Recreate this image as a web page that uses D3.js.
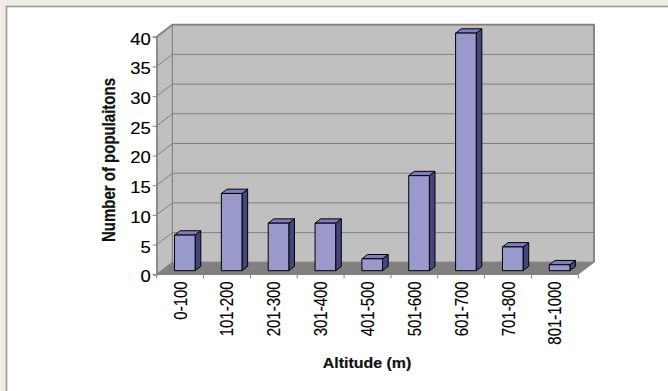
<!DOCTYPE html>
<html>
<head>
<meta charset="utf-8">
<script src="https://cdnjs.cloudflare.com/ajax/libs/d3/7.8.5/d3.min.js"></script>
<style>
  html, body { margin: 0; padding: 0; background: #f1ece5; }
  svg { display: block; }
</style>
</head>
<body>
<svg id="chart" width="668" height="391"></svg>
<script>
// Populations per altitude band
const categories = ["0-100", "101-200", "201-300", "301-400", "401-500", "501-600", "601-700", "701-800", "801-1000"];
const populations = [6, 13, 8, 8, 2, 16, 40, 4, 1];
const yTickValues = [0, 5, 10, 15, 20, 25, 30, 35, 40];
const xTitle = "Altitude (m)";
const yTitle = "Number of populaitons";

const FONT = "Liberation Sans, Arial, sans-serif";
const svg = d3.select("#chart");
const W = 668, H = 391;

// front plane of the 3-D plot box
const x = d3.scaleBand().domain(categories).range([156.7, 578.3]);
const y = d3.scaleLinear().domain([0, 40]).range([274.3, 36.7]);
// depth offset of the back plane
const DX = 15.7, DY = 12;
const P = (xf, v, t) => [xf + t * DX, y(v) - t * DY];
const poly = pts => pts.map(p => p.join(",")).join(" ");

// page background and the white panel
svg.append("rect").attr("width", W).attr("height", H).attr("fill", "#f1ece5");
svg.append("rect").attr("x", 6.5).attr("y", 6.5).attr("width", 700).attr("height", 420)
  .attr("fill", "#fff").attr("stroke", "#9a9a9a").attr("stroke-width", 1.6);

const [x0, x1] = x.range();
const [v0, v1] = y.domain();

// walls and floor
svg.append("polygon")
  .attr("points", poly([P(x0, v0, 0), P(x0, v0, 1), P(x0, v1, 1), P(x0, v1, 0)]))
  .attr("fill", "#c0c0c0").attr("stroke", "#808080").attr("stroke-width", 1);
svg.append("polygon")
  .attr("points", poly([P(x0, v0, 1), P(x1, v0, 1), P(x1, v1, 1), P(x0, v1, 1)]))
  .attr("fill", "#c0c0c0").attr("stroke", "#808080").attr("stroke-width", 1);

// gridlines across the side wall and back wall
svg.append("g").selectAll("polyline").data(yTickValues.filter(v => v > 0 && v < 40)).join("polyline")
  .attr("points", v => poly([P(x0, v, 0), P(x0, v, 1), P(x1, v, 1)]))
  .attr("fill", "none").attr("stroke", "#808080").attr("stroke-width", 1);

// top and right border of the back wall
svg.append("polyline")
  .attr("points", poly([P(x0, v1, 0), P(x0, v1, 1), P(x1, v1, 1), P(x1, v0, 1)]))
  .attr("fill", "none").attr("stroke", "#808080").attr("stroke-width", 1.8);

svg.append("polygon")
  .attr("points", poly([P(x0, v0, 0), P(x1, v0, 0), P(x1, v0, 1), P(x0, v0, 1)]))
  .attr("fill", "#808080").attr("stroke", "#808080").attr("stroke-width", 0.8);

// 3-D columns
const t1 = 0.3, t2 = 0.66;
const bw = x.bandwidth() * 0.44;
const bars = svg.append("g").selectAll("g").data(categories.map((c, i) => ({ c, v: populations[i] }))).join("g");
bars.each(function (d) {
  const g = d3.select(this);
  const cx = x(d.c) + x.bandwidth() / 2;
  const xl = cx - bw / 2, xr = cx + bw / 2;
  g.append("polygon")
    .attr("points", poly([P(xr, 0, t1), P(xr, 0, t2), P(xr, d.v, t2), P(xr, d.v, t1)]))
    .attr("fill", "#44447e").attr("stroke", "#000").attr("stroke-width", 1).attr("stroke-linejoin", "round");
  g.append("polygon")
    .attr("points", poly([P(xl, d.v, t1), P(xr, d.v, t1), P(xr, d.v, t2), P(xl, d.v, t2)]))
    .attr("fill", "#7d7dbf").attr("stroke", "#000").attr("stroke-width", 1).attr("stroke-linejoin", "round");
  g.append("polygon")
    .attr("points", poly([P(xl, 0, t1), P(xr, 0, t1), P(xr, d.v, t1), P(xl, d.v, t1)]))
    .attr("fill", "#9999cc").attr("stroke", "#000").attr("stroke-width", 1).attr("stroke-linejoin", "round");
});

// value axis
const yAxis = svg.append("g").attr("transform", `translate(${x0},0)`)
  .call(d3.axisLeft(y).tickValues(yTickValues).tickSize(4).tickPadding(3).tickFormat(d3.format("d")));
yAxis.select(".domain").attr("stroke", "#808080").attr("stroke-width", 1.2);
yAxis.selectAll(".tick line").attr("stroke", "#808080");
yAxis.selectAll(".tick text")
  .attr("font-size", 16.5).attr("font-family", FONT)
  .attr("fill", "#000").attr("stroke", "#000").attr("stroke-width", 0.15)
  .attr("dy", "0.45em")
  .attr("transform", "scale(1.12,1)")
  .attr("x", -6 / 1.12);

// category axis: baseline and boundary ticks
svg.append("line").attr("x1", x0).attr("x2", x1).attr("y1", y(0)).attr("y2", y(0))
  .attr("stroke", "#808080").attr("stroke-width", 1.2);
const bounds = categories.map(c => x(c)).concat([x1]);
svg.append("g").selectAll("line").data(bounds).join("line")
  .attr("x1", d => d).attr("x2", d => d).attr("y1", y(0)).attr("y2", y(0) + 4)
  .attr("stroke", "#808080");

svg.append("g").selectAll("text").data(categories).join("text")
  .attr("transform", d => `translate(${x(d) + x.bandwidth() / 2 + 6.5},${y(0) + 7}) scale(1.18,1) rotate(-90)`)
  .attr("text-anchor", "end").attr("font-size", 15).attr("font-family", FONT)
  .attr("fill", "#000").attr("stroke", "#000").attr("stroke-width", 0.12)
  .text(d => d);

// axis titles
svg.append("text").attr("x", 367).attr("y", 368).attr("text-anchor", "middle")
  .attr("font-size", 14.5).attr("font-weight", "bold").attr("font-family", FONT)
  .attr("fill", "#111").attr("stroke", "#111").attr("stroke-width", 0.2)
  .attr("transform", "translate(367,0) scale(1.1,1) translate(-367,0)")
  .text(xTitle);
svg.append("text")
  .attr("transform", "translate(115,160) scale(1.2,1) rotate(-90)")
  .attr("text-anchor", "middle").attr("font-size", 15).attr("font-weight", "bold").attr("font-family", FONT)
  .attr("fill", "#111").attr("stroke", "#111").attr("stroke-width", 0.2)
  .text(yTitle);
</script>
</body>
</html>
